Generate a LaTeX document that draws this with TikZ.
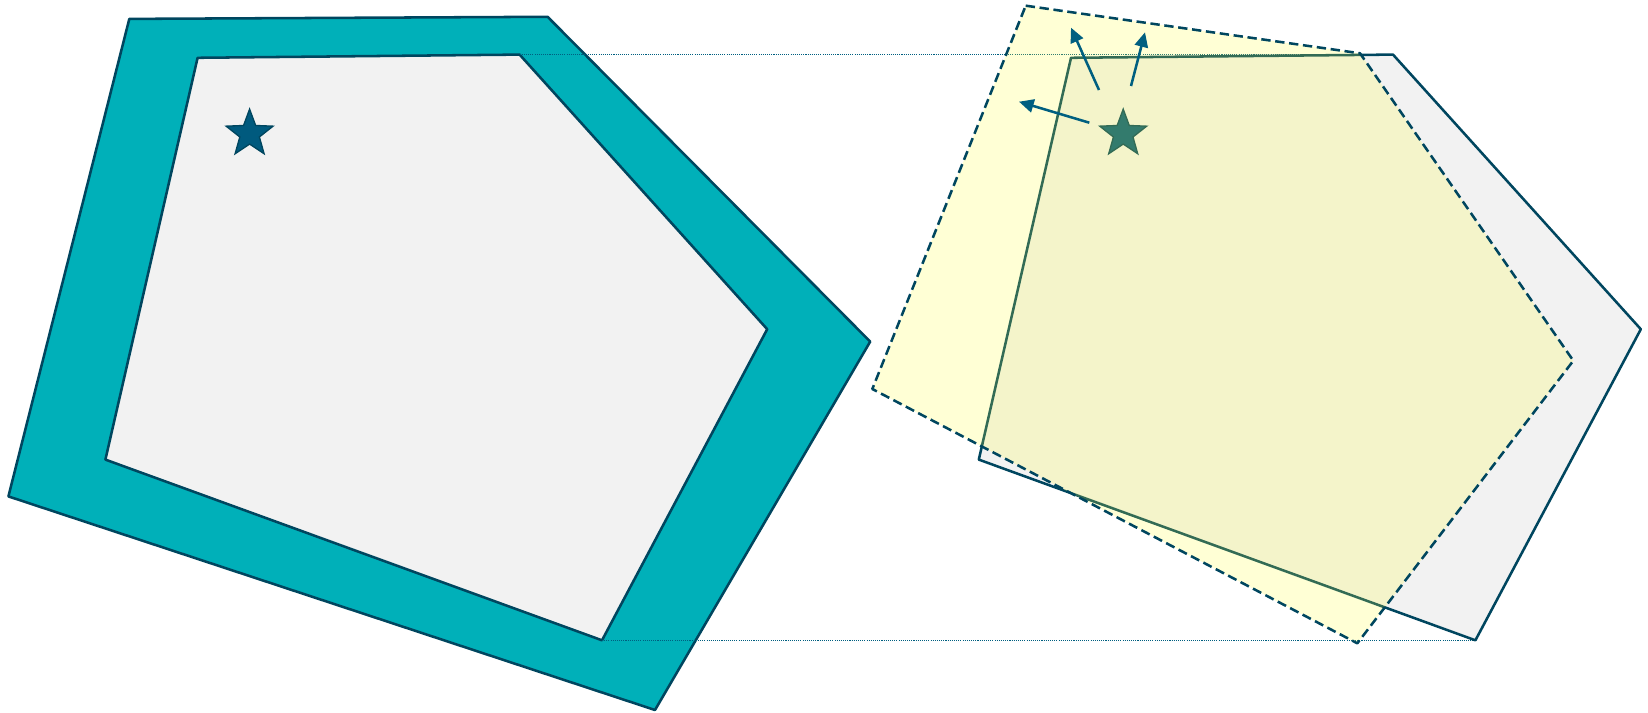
\documentclass[tikz,border=0pt]{standalone}
\usetikzlibrary{shapes.geometric, arrows.meta}
\definecolor{plteal}{HTML}{00B0B9}
\definecolor{pledge}{HTML}{00465F}
\definecolor{plgrey}{HTML}{F2F2F2}
\definecolor{plyellow}{HTML}{FFFF2D}
\definecolor{plblue}{HTML}{005F80}
\definecolor{plstar}{HTML}{005A7E}
\tikzset{
  % poligono esterno (offset)
  outerpoly/.style={draw=pledge, line width=1.9pt, fill=plteal, line join=round},
  % poligono interno
  innerpoly/.style={draw=pledge, line width=1.9pt, fill=plgrey, line join=round},
  % poligono ruotato, trasparente
  turned/.style={draw=pledge, line width=1.9pt, fill=plyellow, fill opacity=0.2,
    dash pattern=on 7pt off 3.5pt, line join=round},
  % linea di riferimento
  guide/.style={plblue, line width=1pt, dash pattern=on 0.8pt off 0.8pt},
  % punto di riferimento
  pin/.style={star, star points=5, star point ratio=2.4, minimum size=37pt,
    inner sep=0pt, fill=plstar, draw=pledge, line width=1pt},
  % spostamento
  move/.style={-{Triangle[length=11pt, width=10pt]}, plblue, line width=1.9pt},
}
\begin{document}
\begin{tikzpicture}[x=0.75pt, y=-0.75pt]
  \useasboundingbox (0,0) rectangle (1648,713);
  % vertici
  \coordinate (o1) at (129.3,18.9);
  \coordinate (o2) at (547.6,16.8);
  \coordinate (o3) at (870.2,341.6);
  \coordinate (o4) at (655,710);
  \coordinate (o5) at (8.4,496.4);
  \coordinate (i1) at (197.6,57.8);
  \coordinate (i2) at (519.6,54.6);
  \coordinate (i3) at (767.2,329.2);
  \coordinate (i4) at (602,640.3);
  \coordinate (i5) at (105.4,459.6);
  \coordinate (r1) at (1071,57.8);
  \coordinate (r2) at (1393,54.6);
  \coordinate (r3) at (1640.8,329.2);
  \coordinate (r4) at (1475.4,640.3);
  \coordinate (r5) at (978.8,459.6);
  \coordinate (y1) at (1025.7,5.7);
  \coordinate (y2) at (1360,53.3);
  \coordinate (y3) at (1573.3,360.7);
  \coordinate (y4) at (1357.3,643.3);
  \coordinate (y5) at (872.3,389);
  \draw[outerpoly] (o1) -- (o2) -- (o3) -- (o4) -- (o5) -- cycle;
  \draw[innerpoly] (i1) -- (i2) -- (i3) -- (i4) -- (i5) -- cycle;
  \node[pin] (sl) at (249.6,133.8) {};
  \draw[guide] (i2) -- (r2);
  \draw[guide] (i4) -- (r4);
  \draw[innerpoly] (r1) -- (r2) -- (r3) -- (r4) -- (r5) -- cycle;
  \node[pin] (sr) at (1123.2,133.8) {};
  \draw[turned] (y1) -- (y2) -- (y3) -- (y4) -- (y5) -- cycle;
  \coordinate (a1) at (1071,27.7);
  \coordinate (a2) at (1145,32.3);
  \coordinate (a3) at (1019,101.7);
  \draw[move] (1099,90) -- (a1);
  \draw[move] (1131,86) -- (a2);
  \draw[move] (1089.3,122.7) -- (a3);
\end{tikzpicture}
\end{document}
